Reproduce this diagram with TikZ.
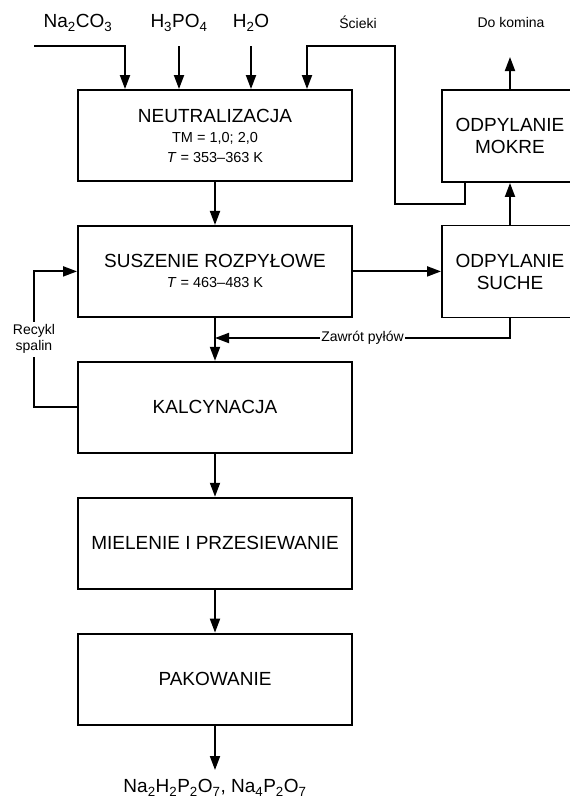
\documentclass[tikz,border=0pt]{standalone}
\usepackage{fontspec}
\setmainfont{Liberation Sans}
\usetikzlibrary{arrows.meta,positioning}
\newcommand\procfont{\fontsize{19}{20}\selectfont}
\newcommand\subfont{\fontsize{14.5}{20}\selectfont}
\newcommand\notefont{\fontsize{14}{16}\selectfont}

\begin{document}
\begin{tikzpicture}[x=1pt,y=-1pt,font=\procfont,
	box/.style={draw,line width=1.9pt,minimum width=274pt,minimum height=91pt,align=center},
	side/.style={draw,line width=1.9pt,minimum width=136pt,minimum height=92pt,align=center},
	flow/.style={line width=1.9pt,-{Triangle[length=14pt,width=10pt]}},
	note/.style={font=\notefont,fill=white,inner sep=1pt},
	node distance=43pt]
	\useasboundingbox (0,0) rectangle (570,801);
	\node[box] (neutr) at (215,135.5) {NEUTRALIZACJA\\{\subfont TM = 1,0; 2,0}\\{\subfont\textit{T} = 353–363 K}};
	\node[box,below=of neutr] (susz) {SUSZENIE ROZPYŁOWE\\{\subfont\textit{T} = 463–483 K}};
	\node[box,below=of susz] (kalc) {KALCYNACJA};
	\node[box,below=of kalc] (miel) {MIELENIE I PRZESIEWANIE};
	\node[box,below=of miel] (pak) {PAKOWANIE};
	\node[side] (mokre) at (510,136) {ODPYLANIE\\[2pt]MOKRE};
	\node[side] (suche) at (510,271.5) {ODPYLANIE\\[2pt]SUCHE};
	\node (na) at (78,23) {Na\textsubscript{2}CO\textsubscript{3}};
	\node (h3po4) at (179,23) {H\textsubscript{3}PO\textsubscript{4}};
	\node (h2o) at (251,23) {H\textsubscript{2}O};
	\node[font=\notefont] (scieki) at (358,22) {Ścieki};
	\node[font=\notefont] (komin) at (511,22) {Do komina};
	\node (produkt) at (215,788) {Na\textsubscript{2}H\textsubscript{2}P\textsubscript{2}O\textsubscript{7}, Na\textsubscript{4}P\textsubscript{2}O\textsubscript{7}};
	\coordinate (naIn) at (34,46);
	\coordinate (naTurn) at (125,46);
	\coordinate (s1) at (465,204);
	\coordinate (s2) at (395,46);
	\coordinate (s3) at (307,46);
	\coordinate (kominTip) at (510,57);
	\coordinate (zw) at (510,338);
	\coordinate (rc) at (34,0);
	\coordinate (prodTip) at (215,770);
	\draw[flow] (naIn) -- (naTurn) -- (naTurn |- neutr.north);
	\draw[flow] (h3po4 |- naIn) -- (h3po4 |- neutr.north);
	\draw[flow] (h2o |- naIn) -- (h2o |- neutr.north);
	\draw[flow] (s1 |- mokre.south) -- (s1) -| (s2) -- (s3) -- (s3 |- neutr.north);
	\draw[flow] (mokre.north) -- (kominTip);
	\draw[flow] (neutr) -- (susz);
	\draw[flow] (susz.east) -- (susz.east -| suche.west);
	\draw[flow] (suche) -- (mokre);
	\draw[flow] (suche.south) -- (zw) -- node[note] {Zawrót pyłów} (zw -| susz.south);
	\draw[flow] (susz) -- (kalc);
	\draw[flow] (kalc.west) -- (kalc.west -| rc) -- node[note,align=center,inner sep=3pt] {Recykl\\spalin} (susz.west -| rc) -- (susz.west);
	\draw[flow] (kalc) -- (miel);
	\draw[flow] (miel) -- (pak);
	\draw[flow] (pak) -- (prodTip);
\end{tikzpicture}
\end{document}
